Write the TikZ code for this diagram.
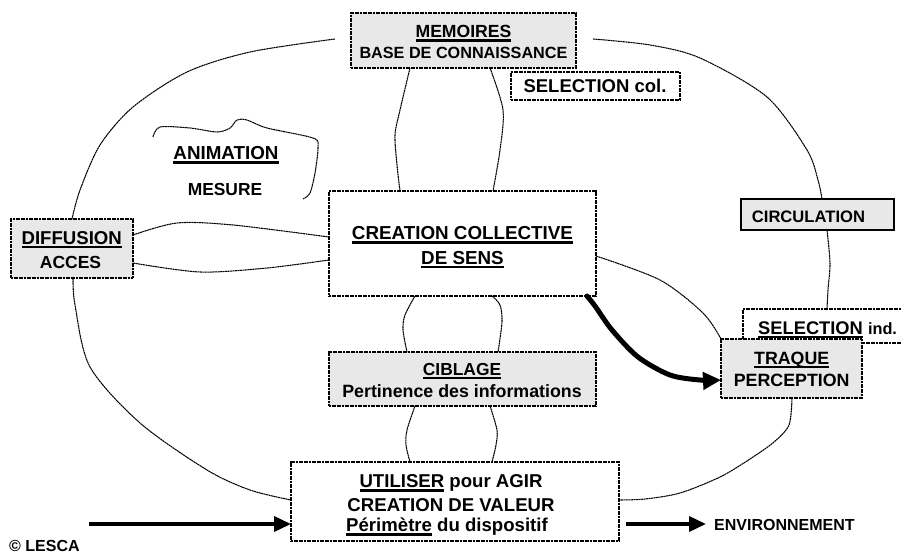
\documentclass[tikz,border=0pt]{standalone}
\usepackage{fontspec}
\setmainfont{Liberation Sans}
\usetikzlibrary{arrows.meta,fit}
\definecolor{boxgray}{RGB}{232,232,232}
\newsavebox\ulbox
\newcommand\myul[1]{\sbox\ulbox{#1}\leavevmode\rlap{\usebox\ulbox}\vrule height -1.5pt depth 4.3pt width \wd\ulbox\relax}
\newcommand\myfs[1]{\fontsize{#1}{#1}\selectfont}
\begin{document}
\begin{tikzpicture}[x=1pt,y=-1pt,
  conn/.style={line width=1.05pt, dash pattern=on 2pt off 0.5pt},
  boxline/.style={line width=1.3pt, dash pattern=on 2pt off 0.6pt},
  dbox/.style={draw, boxline, inner sep=0pt, outer sep=0pt},
  gbox/.style={dbox, fill=boxgray},
  wbox/.style={dbox, fill=white},
  txt/.style={inner sep=0pt, anchor=base, font=\bfseries},
  bigarrow/.style={line width=3.6pt, -{Triangle[length=17pt,width=15pt]}},
]
\useasboundingbox (0,0) rectangle (901,553);
\fill[white] (0,0) rectangle (901,553);

% ---------- boxes ----------
\node[gbox, fit={(351,13)(576,68)}] (mem) {};
\node[wbox, fit={(511,72)(680,100)}] (selcol) {};
\node[gbox, fit={(11,219)(133,278)}] (diff) {};
\node[wbox, fit={(329,191)(596,296)}] (crea) {};
\node[gbox, fit={(329,352)(596,406)}] (cib) {};
\node[draw, line width=1.5pt, fill=boxgray, inner sep=0pt, outer sep=0pt, fit={(741,199)(894,230)}] (circ) {};
\node[fill=white, inner sep=0pt, outer sep=0pt, fit={(743,309)(901,343)}] (selind) {};
\draw[boxline] (selind.north east) -- (selind.north west) -- (selind.south west) -- (selind.south east);
\node[gbox, fit={(721,339)(862,398)}] (traq) {};
\node[wbox, fit={(291,462)(619,541)}] (util) {};

% ---------- connector end points ----------
\coordinate (e1) at (335,39);
\coordinate (e2) at (593,39);
\path (72,0 |- diff.north) coordinate (d1);
\path (73,0 |- diff.south) coordinate (d2);
\path (util.west |- 0,500) coordinate (u1);
\path (util.east |- 0,500) coordinate (u2);
\path (822,0 |- circ.north) coordinate (c1);
\path (827,0 |- circ.south) coordinate (c2);
\path (827,0 |- selind.north) coordinate (s1);
\path (792,0 |- traq.south) coordinate (t1);
\path (traq.north west) coordinate (t2);
\path (410,0 |- mem.south) coordinate (m1);
\path (490,0 |- mem.south) coordinate (m2);
\path (400,0 |- crea.north) coordinate (k1);
\path (493,0 |- crea.north) coordinate (k2);
\path (415,0 |- crea.south) coordinate (k3);
\path (492,0 |- crea.south) coordinate (k4);
\path (crea.east |- 0,256) coordinate (k5);
\path (crea.west |- 0,237) coordinate (k6);
\path (crea.west |- 0,260) coordinate (k7);
\path (587,0 |- crea.south) coordinate (k8);
\path (407,0 |- cib.north) coordinate (b1);
\path (498,0 |- cib.north) coordinate (b2);
\path (415,0 |- cib.south) coordinate (b3);
\path (490,0 |- cib.south) coordinate (b4);
\path (410,0 |- util.north) coordinate (u3);
\path (492,0 |- util.north) coordinate (u4);
\path (diff.east |- 0,235) coordinate (d3);
\path (diff.east |- 0,263) coordinate (d4);
\path (traq.west |- 0,380) coordinate (t3);

% ---------- connectors ----------
\draw[conn] plot[smooth] coordinates {(e1) (250,52) (187,72) (133,107) (100,145) (80,190) (d1)};
\draw[conn] plot[smooth] coordinates {(d2) (75,305) (90,367) (140,423) (207,470) (250,490) (u1)};
\draw[conn] plot[smooth] coordinates {(e2) (650,45) (700,58) (767,97) (807,150) (818,180) (c1)};
\draw[conn] plot[smooth] coordinates {(c2) (830,263) (828,290) (s1)};
\draw[conn] plot[smooth] coordinates {(t1) (789,425) (774,442) (750,459) (720,477) (680,493) (645,499) (u2)};
\draw[conn] plot[smooth] coordinates {(m1) (400,110) (395,135) (397,165) (k1)};
\draw[conn] plot[smooth] coordinates {(m2) (503,110) (500,150) (k2)};
\draw[conn] plot[smooth] coordinates {(k3) (405,315) (403,330) (b1)};
\draw[conn] plot[smooth] coordinates {(k4) (500,305) (502,322) (b2)};
\draw[conn] plot[smooth] coordinates {(b3) (407,430) (406,445) (u3)};
\draw[conn] plot[smooth] coordinates {(b4) (497,430) (496,445) (u4)};
\draw[conn] plot[smooth] coordinates {(d3) (177,223) (233,225) (k6)};
\draw[conn] plot[smooth] coordinates {(d4) (200,272) (267,268) (k7)};
\draw[conn] plot[smooth] coordinates {(k5) (660,280) (703,313) (t2)};
\draw[conn] plot[smooth] coordinates {(153,137) (160,127) (190,128) (217,132) (230,128) (237,120) (247,120) (267,128) (313,138) (318,147) (315,173) (310,193) (303,199)};

% thick arrow
\draw[line width=5pt, line cap=round, -{Triangle[length=18pt,width=17pt]}]
  plot[smooth] coordinates {(k8) (595,306) (612,330) (638,357) (670,375) (700,380) (t3)};

% ---------- texts ----------
\node[txt] (memt) at (463.5,38) {\myfs{17.6}\myul{MEMOIRES}};
\node[txt] (memb) at (463.5,58.3) {\myfs{16.2}BASE DE CONNAISSANCE};
\node[txt] (selcolt) at (595,93) {\myfs{18.5}SELECTION col.};
\node[txt] (difft) at (71.7,244) {\myfs{18.6}\myul{DIFFUSION}};
\node[txt] (diffb) at (70.5,268) {\myfs{17.5}ACCES};
\node[txt] (anim) at (226,160) {\myfs{18.8}\myul{ANIMATION}};
\node[txt] (mes) at (225,196) {\myfs{17.4}MESURE};
\node[txt] (creat) at (462.5,240) {\myfs{18.8}\myul{CREATION COLLECTIVE}};
\node[txt] (creab) at (462.5,264) {\myfs{18.8}\myul{DE SENS}};
\node[txt] (cibt) at (462,375) {\myfs{17.4}\myul{CIBLAGE}};
\node[txt] (cibb) at (462,397) {\myfs{17.8}Pertinence des informations};
\node[txt, anchor=base west] (circt) at (751.7,222.7) {\myfs{16.6}CIRCULATION};
\node[txt, anchor=base west] (selindt) at (758,334) {\myfs{18.3}\myul{SELECTION} \myfs{16.3}ind.};
\node[txt] (traqt) at (791.7,364) {\myfs{17.8}\myul{TRAQUE}};
\node[txt] (traqb) at (791.7,386) {\myfs{17.8}PERCEPTION};
\node[txt] (utilt) at (451,487.5) {\myfs{18.6}\myul{UTILISER} pour AGIR};
\node[txt] (utilm) at (451,511.7) {\myfs{18.6}CREATION DE VALEUR};
\node[txt] (utilb) at (447,531.7) {\myfs{18.6}\myul{Périmètre} du dispositif};
\node[txt, anchor=base west] (env) at (714,530) {\myfs{16}ENVIRONNEMENT};
\node[txt, anchor=base west] (lesca) at (9,551) {\myfs{16}© LESCA};

% ---------- straight arrows ----------
\coordinate (ain) at (89,524);
\draw[bigarrow] (ain) -- (ain -| util.west);
\path (util.east |- 0,524) coordinate (aout0);
\draw[bigarrow] ([xshift=7pt]aout0) -- (706,524);
\end{tikzpicture}
\end{document}
